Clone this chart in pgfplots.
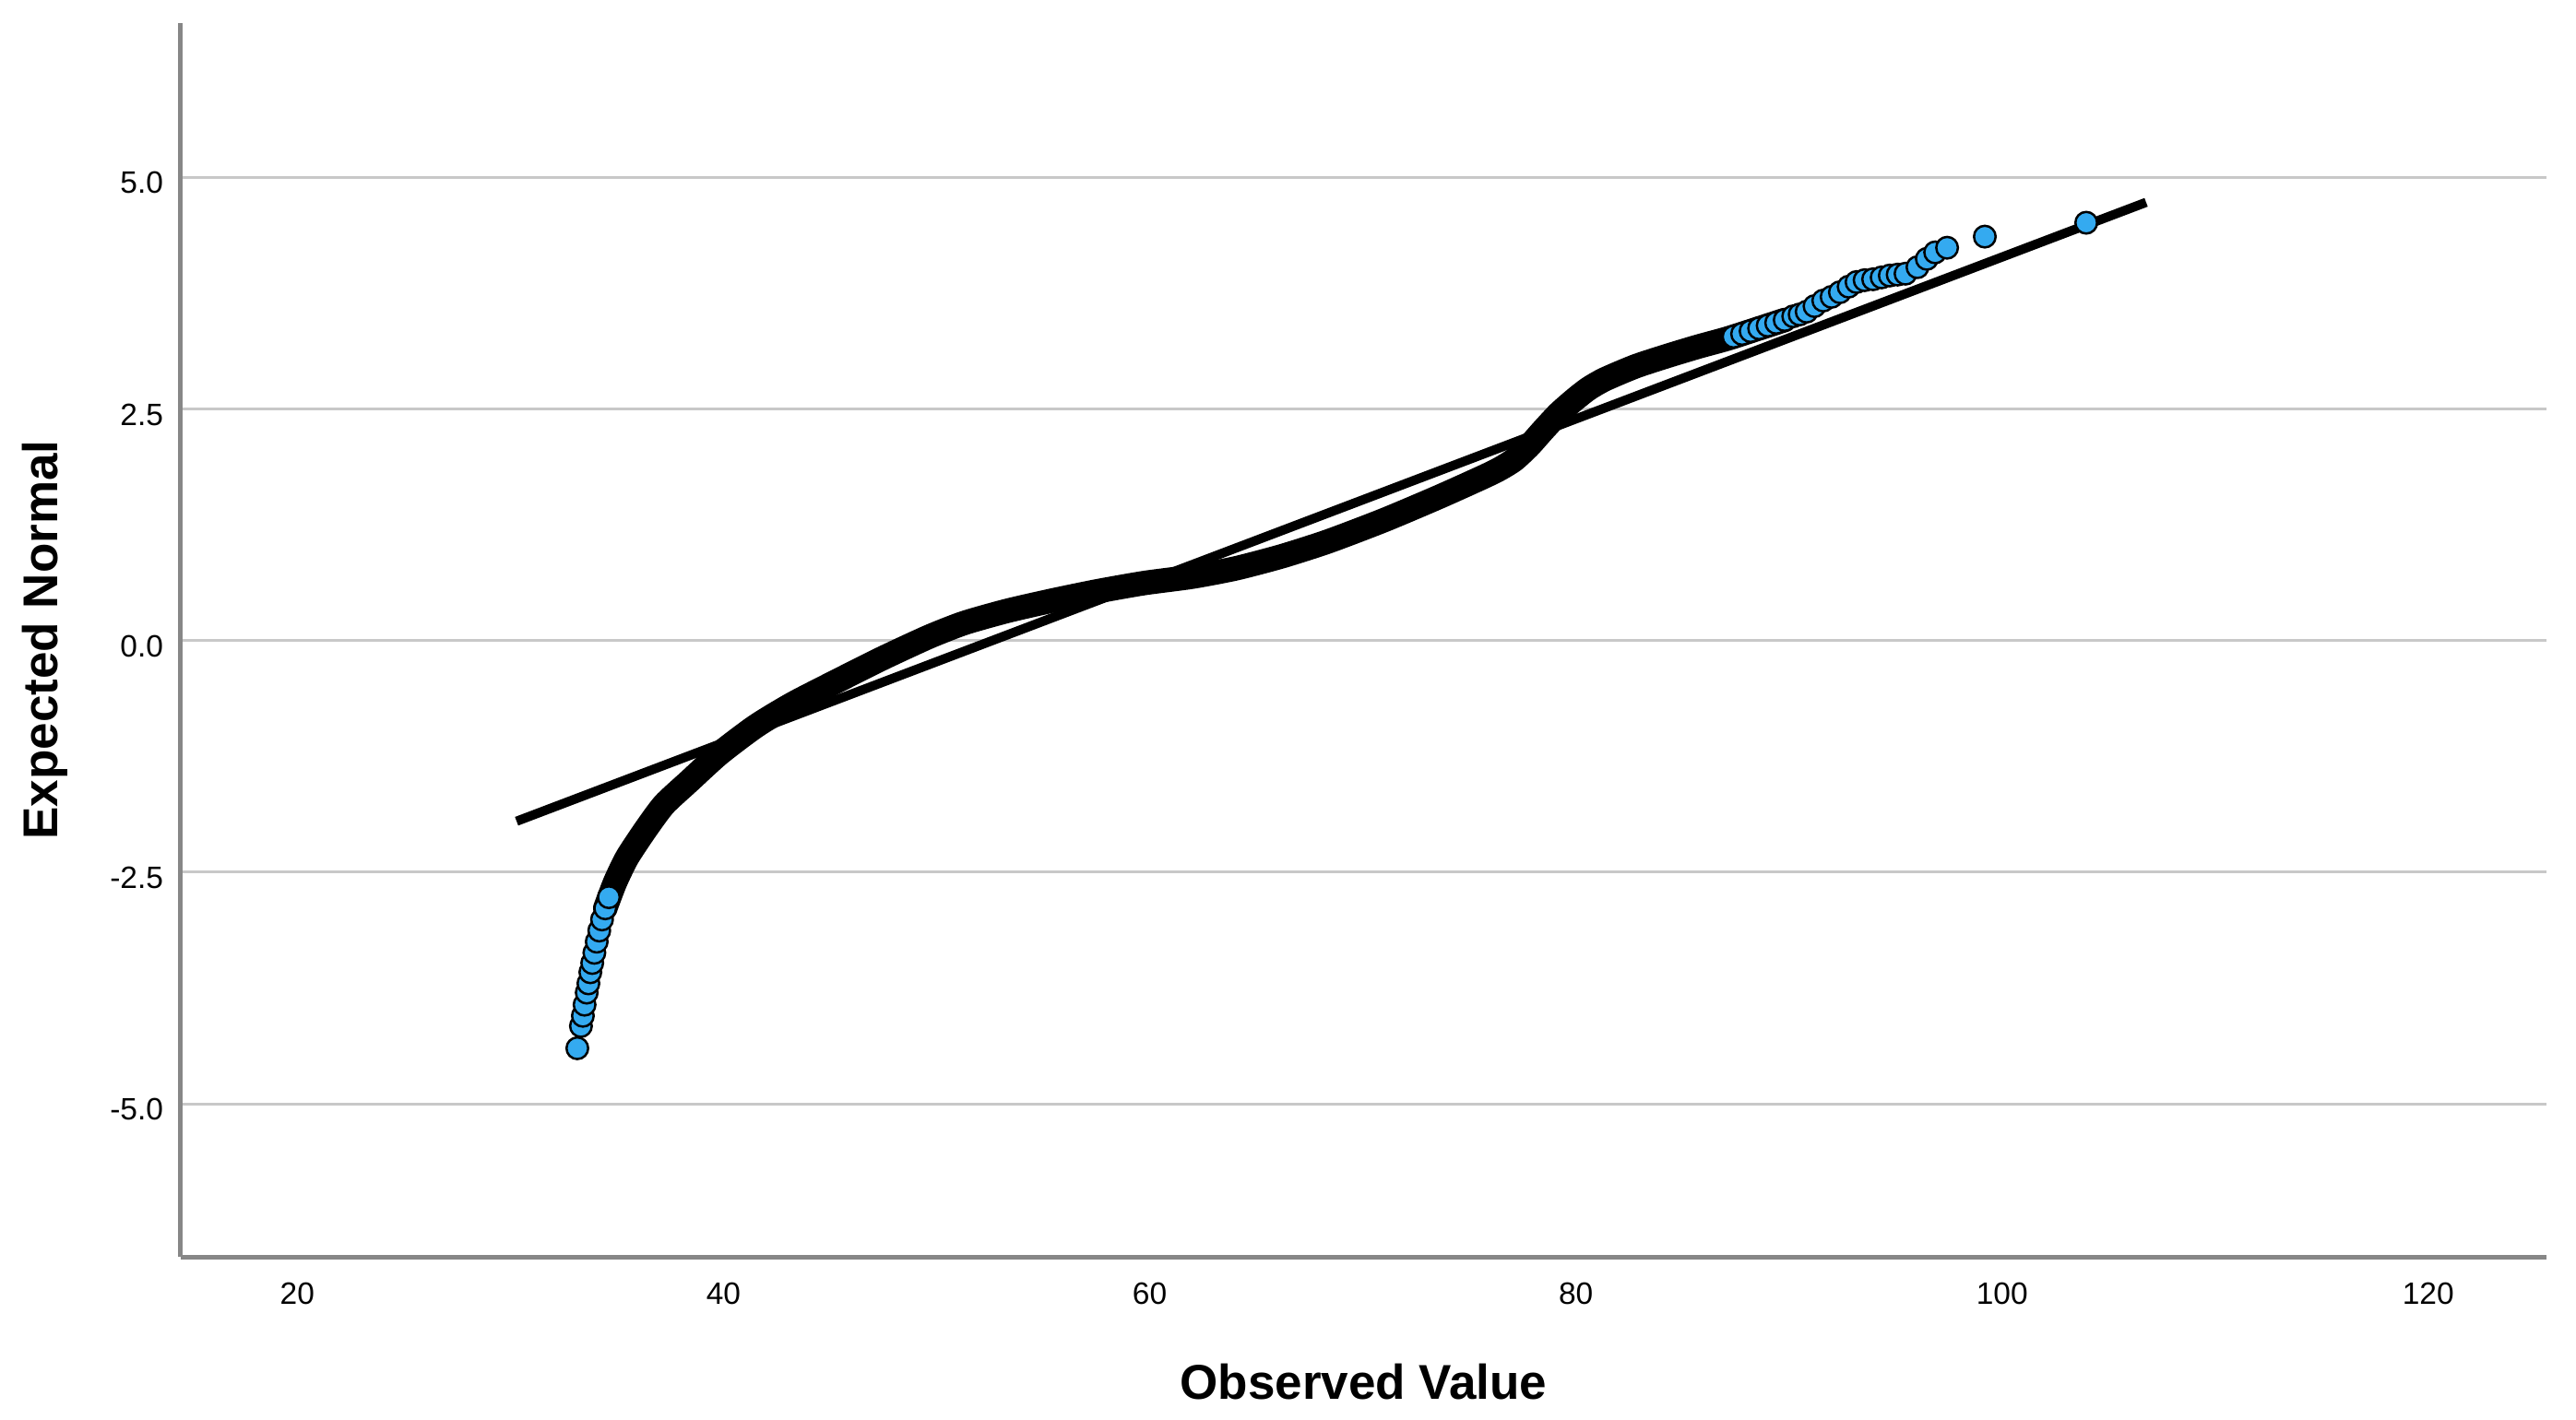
\documentclass[border=0pt]{standalone}
\usepackage{fontspec}
\setmainfont{Liberation Sans}
\usepackage{pgfplots}
\pgfplotsset{compat=1.18}
\definecolor{ptblue}{RGB}{52,170,240}
\definecolor{gridgray}{RGB}{200,200,200}
\definecolor{axgray}{RGB}{135,135,135}
\begin{document}
\begin{tikzpicture}
\begin{axis}[
  scale only axis, width=513pt, height=267.6pt,
  xmin=14.53, xmax=125.55, ymin=-6.651, ymax=6.665,
  axis lines=left,
  axis line style={-, draw=axgray, line width=1pt},
  xtick={20,40,60,80,100,120},
  xticklabels={20,40,60,80,100,120},
  ytick={-5,-2.5,0,2.5,5},
  yticklabels={-5.0,-2.5,0.0,2.5,5.0},
  major tick length=0pt,
  ymajorgrids, grid style={gridgray, line width=0.6pt},
  tick label style={font=\fontsize{6.7}{8}\selectfont, inner sep=0pt},
  x tick label style={anchor=north, yshift=-5.4pt},
  y tick label style={anchor=east, xshift=-3.6pt, yshift=-1.2pt},
  xlabel={Observed Value}, ylabel={Expected Normal},
  label style={font=\fontsize{10.6}{12}\selectfont\bfseries},
  xlabel style={at={(axis description cs:0.5,-0.1158)}, anchor=base},
  ylabel style={at={(axis description cs:-0.0522,0.5)}, anchor=base},
  every axis plot/.append style={line join=round},
]
% lower tail points
\addplot[only marks, mark=*, mark size=2.35pt, mark options={fill=ptblue, draw=black, line width=0.5pt}] table {
x y
33.14 -4.40
33.31 -4.16
33.40 -4.05
33.48 -3.93
33.58 -3.80
33.66 -3.70
33.75 -3.58
33.84 -3.48
33.94 -3.37
34.05 -3.25
34.17 -3.13
34.30 -3.01
34.45 -2.89
34.62 -2.77
};
% upper tail points
\addplot[only marks, mark=*, mark size=2.35pt, mark options={fill=ptblue, draw=black, line width=0.5pt}] table {
x y
87.4 3.28
87.8 3.31
88.2 3.34
88.6 3.37
89.0 3.40
89.4 3.43
89.8 3.46
90.2 3.50
90.5 3.52
90.83 3.55
91.2 3.61
91.61 3.67
92.0 3.71
92.39 3.76
92.8 3.82
93.17 3.87
93.55 3.89
93.95 3.90
94.35 3.92
94.73 3.94
95.1 3.95
95.47 3.96
96.03 4.03
96.47 4.12
96.86 4.19
97.42 4.24
99.19 4.36
103.95 4.51
};
% dense middle of the point cloud
\addplot[black, line width=5.3pt, line cap=round, smooth, tension=0.4] table {
x y
34.45 -2.89
34.91 -2.61
35.48 -2.34
36.34 -2.04
37.21 -1.77
38.38 -1.52
39.81 -1.22
41.54 -0.92
43.27 -0.68
45.30 -0.44
47.47 -0.19
49.63 0.04
51.30 0.19
53.30 0.32
55.39 0.43
57.50 0.53
59.72 0.62
62.00 0.69
64.05 0.78
66.20 0.91
68.37 1.07
71.00 1.30
73.57 1.55
75.60 1.76
76.40 1.85
77.10 1.95
77.80 2.10
78.46 2.27
79.19 2.45
79.93 2.60
80.60 2.72
81.36 2.82
82.80 2.96
84.26 3.07
85.70 3.17
87.12 3.26
88.60 3.37
89.80 3.46
};
% reference line
\addplot[black, line width=2pt] coordinates {(30.29,-1.95) (106.76,4.73)};
\end{axis}
\path (-39.2pt,-35.2pt) rectangle (519.4pt,272.6pt);
\end{tikzpicture}
\end{document}
